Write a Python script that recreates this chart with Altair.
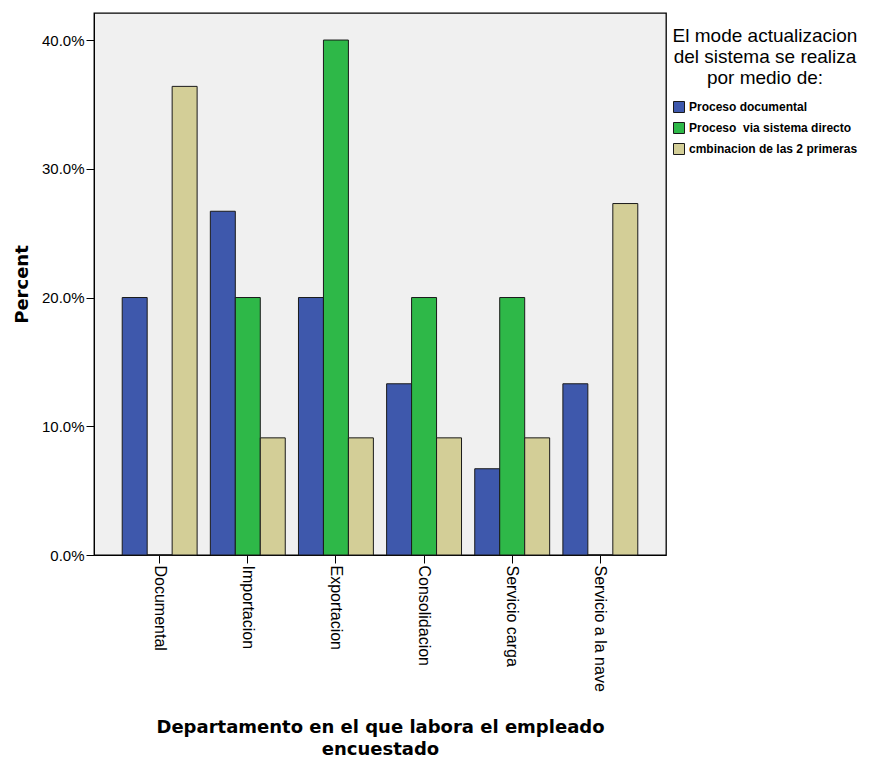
import altair as alt
import pandas as pd

departments = ["Documental", "Importacion", "Exportacion", "Consolidacion",
               "Servicio carga", "Servicio a la nave"]
series = ["Proceso documental", "Proceso\u00a0 via sistema directo",
          "cmbinacion de las 2 primeras"]
proceso_documental = [20.0, 26.7, 20.0, 13.3, 6.7, 13.3]
via_sistema_directo = [0.0, 20.0, 40.0, 20.0, 20.0, 0.0]
combinacion = [36.4, 9.1, 9.1, 9.1, 9.1, 27.3]
colors = ["#3E58AC", "#2EB848", "#D3CE97"]
y_ticks = [0, 0.1, 0.2, 0.3, 0.4]

rows = []
for s, vals in zip(series, [proceso_documental, via_sistema_directo, combinacion]):
    for d, v in zip(departments, vals):
        rows.append({"dept": d, "serie": s, "pct": v / 100})
df = pd.DataFrame(rows)

FONT = "Liberation Sans"
BOLD_FONT = "DejaVu Sans"

chart = alt.Chart(df).mark_bar(stroke="#1a1a1a", strokeWidth=1).encode(
    x=alt.X("dept:N", sort=departments,
            scale=alt.Scale(paddingInner=0.15, paddingOuter=0.32),
            axis=alt.Axis(title=["Departamento en el que labora el empleado", "encuestado"],
                          labelAngle=90, labelFontSize=16, labelColor="black",
                          labelFont=FONT, tickSize=8, tickColor="black",
                          domainColor="black", titleFont=BOLD_FONT, titleFontSize=18,
                          titleFontWeight="bold", titleColor="black",
                          titlePadding=27, titleLineHeight=22)),
    xOffset=alt.XOffset("serie:N", sort=series,
                        scale=alt.Scale(paddingInner=0, paddingOuter=0)),
    y=alt.Y("pct:Q", scale=alt.Scale(domain=[0, 0.421], nice=False),
            axis=alt.Axis(values=y_ticks, format=".1%", title="Percent", grid=False,
                          labelFontSize=15, labelColor="black", labelFont=FONT,
                          tickSize=8, tickColor="black", domainColor="black",
                          titleFont=BOLD_FONT, titleFontSize=18, titleFontWeight="bold",
                          titleColor="black", titlePadding=10)),
    color=alt.Color("serie:N", sort=series,
                    scale=alt.Scale(domain=series, range=colors),
                    legend=alt.Legend(title=["El mode actualizacion", "del sistema se realiza",
                                             "por medio de:"],
                                      orient="none", legendX=579, legendY=14,
                                      titleFont=FONT, titleFontSize=19,
                                      titleFontWeight="normal", titleColor="black",
                                      titleLineHeight=21, titleAnchor="middle",
                                      titleAlign="center", titlePadding=13,
                                      titleLimit=400,
                                      labelFont=FONT, labelFontSize=12,
                                      labelFontWeight="bold", labelColor="black",
                                      labelOffset=4,
                                      symbolType="square", symbolSize=121,
                                      symbolStrokeColor="#1a1a1a", symbolStrokeWidth=1,
                                      rowPadding=5, labelLimit=400))
).properties(
    width=572, height=542,
    autosize=alt.AutoSizeParams(type="none"),
    padding={"left": 86, "top": 5, "right": 198, "bottom": 203},
    background="white",
).configure_view(fill="#F0F0F0", stroke="black", strokeWidth=1.3)

chart.save("out.html", embed_options={"renderer": "svg", "actions": False})
